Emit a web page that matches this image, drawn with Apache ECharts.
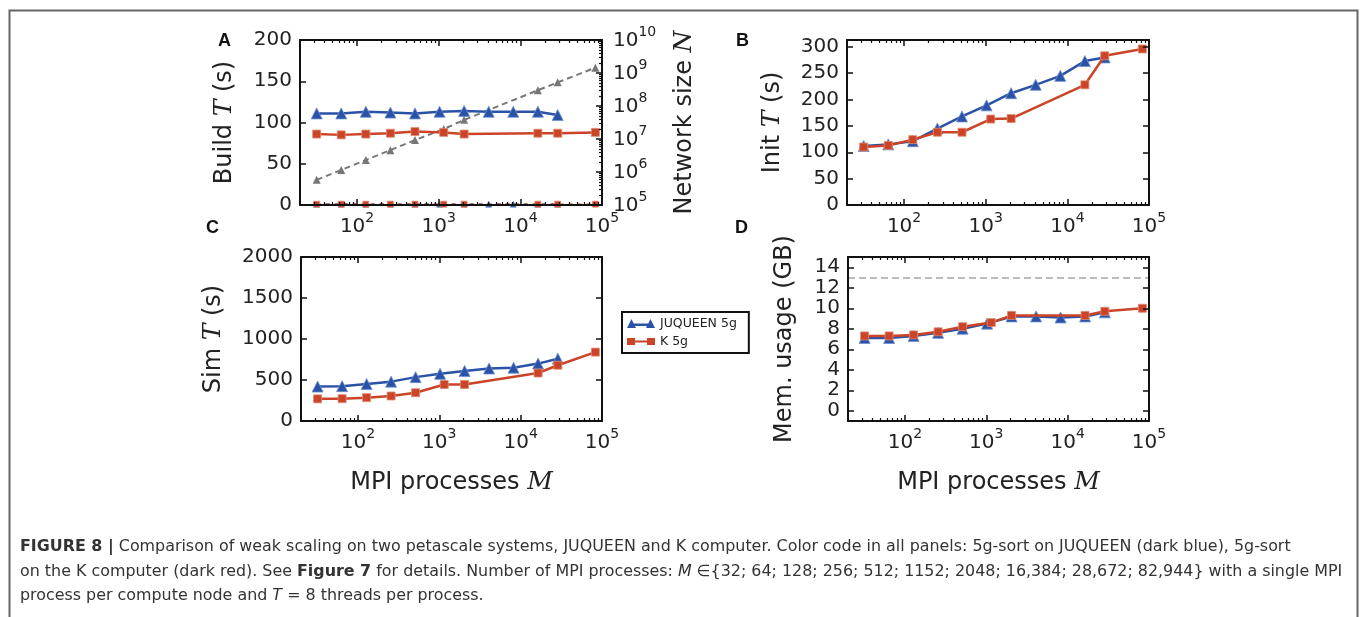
<!DOCTYPE html>
<html><head><meta charset="utf-8">
<script src="https://cdn.jsdelivr.net/npm/echarts@6/dist/echarts.min.js"></script>
<style>html,body{margin:0;padding:0;background:#fff}#c{width:1360px;height:617px}</style>
</head><body><div id="c"></div>
<script>
// ---------- data ----------
const mJUQ = [32, 64, 128, 256, 512, 1024, 2048, 4096, 8192, 16384, 28672];
const mK = [32, 64, 128, 256, 512, 1152, 2048, 16384, 28672, 82944];
const buildJUQ = [111, 111, 113, 112, 111, 113, 114, 113, 113, 113, 109];
const buildK = [86, 85, 86, 87, 89, 88, 86, 87, 87, 88];
const buildLowJUQ = [1, 1, 1, 1, 1, 1, 1, 1, 1, 1, 1];
const buildLowK = [1, 1, 1, 1, 1, 1, 1, 1, 1, 1];
const networkN = [5.8e5, 1.15e6, 2.3e6, 4.6e6, 9.3e6, 2.0e7, 3.8e7, 3.0e8, 5.2e8, 1.45e9];
const initJUQ = [112, 115, 121, 145, 168, 189, 212, 228, 245, 273, 280];
const initK = [110, 113, 124, 138, 138, 163, 164, 228, 283, 296];
const simJUQ = [420, 425, 450, 480, 535, 575, 610, 640, 650, 700, 760];
const simK = [270, 272, 285, 305, 345, 445, 445, 585, 680, 840];
const memJUQ = [7.1, 7.1, 7.3, 7.6, 8.0, 8.5, 9.2, 9.2, 9.1, 9.2, 9.6];
const memK = [7.3, 7.3, 7.4, 7.7, 8.2, 8.6, 9.3, 9.3, 9.7, 10.0];
const memLimit = 13;

// tick labels
const xMajorTicks = [100, 1000, 10000, 100000];
const nMajorTicks = [1e5, 1e6, 1e7, 1e8, 1e9, 1e10];
const buildTicks = [0, 50, 100, 150, 200];
const initTicks = [0, 50, 100, 150, 200, 250, 300];
const simTicks = [0, 500, 1000, 1500, 2000];
const memTicks = [0, 2, 4, 6, 8, 10, 12, 14];
const seriesNames = ['JUQUEEN 5g', 'K 5g'];

// ---------- style ----------
const FONT = 'DejaVu Sans';
const TXT = '#222';
const AX = '#111';
const BLUE = '#2a52a6';
const RED = '#cb4427';

function minorLog(lo, hi) {
  const out = [];
  for (let d = 1; d <= 12; d++) for (let k = 2; k <= 9; k++) {
    const v = k * Math.pow(10, d);
    if (v > lo && v < hi) out.push(v);
  }
  return out;
}
const xMinorTicks = minorLog(20, 1e5);
const nMinorTicks = minorLog(1e5, 1e10);

const supRich = {
  b: { fontSize: 20, fontFamily: FONT, color: TXT, lineHeight: 22, verticalAlign: 'bottom' },
  s: { fontSize: 14, fontFamily: FONT, color: TXT, lineHeight: 14, padding: [0, 0, 12, 0], verticalAlign: 'bottom' }
};
const supFmt = v => '{b|10}{s|' + Math.round(Math.log10(v)) + '}';
const plainFmt = v => String(v);
const nameRich = {
  n: { fontSize: 24, fontFamily: FONT, color: TXT },
  i: { fontSize: 25, fontFamily: 'DejaVu Serif', fontStyle: 'italic', color: TXT }
};

const grids = [
  { left: 300, top: 40, width: 302, height: 165 },
  { left: 847, top: 40, width: 302, height: 165 },
  { left: 301, top: 257, width: 301, height: 164 },
  { left: 848, top: 257, width: 301, height: 164 }
];

const xAxes = [];
grids.forEach((g, gi) => {
  const base = { gridIndex: gi, type: 'log', logBase: 10, min: 20, max: 100000, splitLine: { show: false }, z: 10 };
  const hasName = gi >= 2;
  xAxes.push(Object.assign({}, base, {
    position: 'bottom',
    axisLine: { show: true, onZero: false, lineStyle: { color: AX, width: 2 } },
    axisTick: { show: true, inside: true, length: 6, lineStyle: { color: AX, width: 1.5 }, customValues: xMajorTicks },
    axisLabel: { show: true, customValues: xMajorTicks, formatter: supFmt, rich: supRich, margin: 10 },
    name: hasName ? '{n|MPI processes }{i|M}' : '',
    nameLocation: 'middle', nameGap: 49,
    nameTextStyle: { rich: nameRich }
  }));
  xAxes.push(Object.assign({}, base, {
    position: 'bottom',
    axisLine: { show: false, onZero: false },
    axisTick: { show: true, inside: true, length: 3, lineStyle: { color: AX, width: 1.2 }, customValues: xMinorTicks },
    axisLabel: { show: false }
  }));
  xAxes.push(Object.assign({}, base, {
    position: 'top',
    axisLine: { show: true, onZero: false, lineStyle: { color: AX, width: 2 } },
    axisTick: { show: true, inside: true, length: 6, lineStyle: { color: AX, width: 1.5 }, customValues: xMajorTicks },
    axisLabel: { show: false }
  }));
  xAxes.push(Object.assign({}, base, {
    position: 'top',
    axisLine: { show: false, onZero: false },
    axisTick: { show: true, inside: true, length: 3, lineStyle: { color: AX, width: 1.2 }, customValues: xMinorTicks },
    axisLabel: { show: false }
  }));
});

function leftAxis(gi, min, max, ticks, name, gap) {
  return {
    gridIndex: gi, type: 'value', position: 'left', min: min, max: max, z: 10,
    splitLine: { show: false },
    axisLine: { show: true, onZero: false, lineStyle: { color: AX, width: 2 } },
    axisTick: { show: true, inside: true, length: 6, lineStyle: { color: AX, width: 1.5 }, customValues: ticks },
    axisLabel: { show: true, customValues: ticks, formatter: plainFmt, margin: 8, fontSize: 20, fontFamily: FONT, color: TXT },
    name: name, nameLocation: 'middle', nameRotate: 90, nameGap: gap,
    nameTextStyle: { rich: nameRich }
  };
}
function rightMirror(gi, min, max, ticks) {
  return {
    gridIndex: gi, type: 'value', position: 'right', min: min, max: max, z: 10,
    splitLine: { show: false },
    axisLine: { show: true, onZero: false, lineStyle: { color: AX, width: 2 } },
    axisTick: { show: true, inside: true, length: 6, lineStyle: { color: AX, width: 1.5 }, customValues: ticks },
    axisLabel: { show: false }
  };
}

const yAxes = [
  leftAxis(0, 0, 200, buildTicks, '{n|Build }{i|T}{n| (s)}', 63),
  {
    gridIndex: 0, type: 'log', logBase: 10, position: 'right', min: 1e5, max: 1e10, z: 10,
    splitLine: { show: false },
    axisLine: { show: true, onZero: false, lineStyle: { color: AX, width: 2 } },
    axisTick: { show: true, inside: true, length: 6, lineStyle: { color: AX, width: 1.5 }, customValues: nMajorTicks },
    axisLabel: { show: true, customValues: nMajorTicks, formatter: supFmt, rich: supRich, margin: 11 },
    name: '{n|Network size }{i|N}', nameLocation: 'middle', nameRotate: 90, nameGap: 70,
    nameTextStyle: { rich: nameRich }
  },
  {
    gridIndex: 0, type: 'log', logBase: 10, position: 'right', min: 1e5, max: 1e10, z: 10,
    splitLine: { show: false }, axisLine: { show: false, onZero: false },
    axisTick: { show: true, inside: true, length: 3, lineStyle: { color: AX, width: 1.2 }, customValues: nMinorTicks },
    axisLabel: { show: false }
  },
  leftAxis(1, 0, 313, initTicks, '{n|Init }{i|T}{n| (s)}', 62),
  rightMirror(1, 0, 313, initTicks),
  leftAxis(2, 0, 2000, simTicks, '{n|Sim }{i|T}{n| (s)}', 75),
  rightMirror(2, 0, 2000, simTicks),
  leftAxis(3, -1, 15, memTicks, '{n|Mem. usage (GB)}', 51),
  rightMirror(3, -1, 15, memTicks)
];

function pairs(ms, vs) { return ms.map((m, i) => [m, vs[i]]); }
function juq(name, xi, yi, vals, extra) {
  return Object.assign({
    name: name, type: 'line', xAxisIndex: xi, yAxisIndex: yi, data: pairs(mJUQ, vals),
    symbol: 'triangle', symbolSize: 11, color: BLUE,
    lineStyle: { color: BLUE, width: 2.5 }, itemStyle: { color: BLUE, borderColor: '#6f8fd0', borderWidth: 0.8 },
    z: 3
  }, extra || {});
}
function kser(name, xi, yi, vals, extra) {
  return Object.assign({
    name: name, type: 'line', xAxisIndex: xi, yAxisIndex: yi, data: pairs(mK, vals),
    symbol: 'rect', symbolSize: 8, color: RED,
    lineStyle: { color: RED, width: 2.5 }, itemStyle: { color: RED, borderColor: '#e08a74', borderWidth: 0.8 },
    z: 4
  }, extra || {});
}

const series = [
  {
    name: 'Network size', type: 'line', xAxisIndex: 0, yAxisIndex: 1, data: pairs(mK, networkN),
    symbol: 'triangle', symbolSize: 8, color: '#777',
    lineStyle: { color: '#777', width: 2, type: [6, 4] }, itemStyle: { color: '#777' }, z: 2
  },
  juq(seriesNames[0], 0, 0, buildJUQ),
  kser(seriesNames[1], 0, 0, buildK),
  juq('JUQUEEN low', 0, 0, buildLowJUQ, { lineStyle: { color: BLUE, width: 1.5, type: [4, 5] }, symbolSize: 6 }),
  kser('K low', 0, 0, buildLowK, { lineStyle: { color: RED, width: 1.5, type: [4, 5] }, symbolSize: 6 }),
  juq(seriesNames[0], 4, 3, initJUQ),
  kser(seriesNames[1], 4, 3, initK),
  juq(seriesNames[0], 8, 5, simJUQ),
  kser(seriesNames[1], 8, 5, simK),
  juq(seriesNames[0], 12, 7, memJUQ),
  kser(seriesNames[1], 12, 7, memK, {
    markLine: {
      silent: true, symbol: 'none', label: { show: false },
      lineStyle: { color: '#bbb', width: 2, type: [7, 4] },
      data: [{ yAxis: memLimit }]
    }
  })
];

const CAPF = 'DejaVu Sans';
const CAPS = 15.9;
const capBase = { fontSize: CAPS, fontFamily: CAPF, fill: '#333' };
const capRich = {
  b: { fontSize: CAPS, fontFamily: CAPF, fontWeight: 'bold', color: '#333' },
  i: { fontSize: CAPS, fontFamily: CAPF, fontStyle: 'italic', color: '#333' }
};
function capLine(y, text) {
  return { type: 'text', left: 20, top: y, style: Object.assign({ text: text, rich: capRich }, capBase) };
}
function panelLetter(x, y, t) {
  return { type: 'text', left: x, top: y, style: { text: t, fontSize: 18, fontWeight: 'bold', fontFamily: 'Liberation Sans', fill: '#111' } };
}

const option = {
  animation: false,
  backgroundColor: '#fff',
  grid: grids.map(g => Object.assign({ containLabel: false, outerBoundsMode: 'none' }, g)),
  xAxis: xAxes,
  yAxis: yAxes,
  legend: {
    left: 622, top: 312, orient: 'vertical',
    itemWidth: 28, itemHeight: 10, itemGap: 5,
    padding: [5, 12, 5, 5],
    borderColor: '#111', borderWidth: 2, backgroundColor: '#fff',
    itemStyle: { borderWidth: 0 },
    textStyle: { fontSize: 12.5, fontFamily: FONT, color: TXT },
    data: [
      { name: seriesNames[0], icon: 'path://M0,10 L4.5,1 L9,10 Z M4,5.5 L24,5.5 L24,8 L4,8 Z M19,10 L23.5,1 L28,10 Z' },
      { name: seriesNames[1], icon: 'path://M0,1.5 L8,1.5 L8,8.5 L0,8.5 Z M6,4 L22,4 L22,6 L6,6 Z M20,1.5 L28,1.5 L28,8.5 L20,8.5 Z' }
    ]
  },
  graphic: [
    { type: 'rect', left: 7, top: 8, shape: { width: 1348, height: 640 }, style: { fill: 'none', stroke: '#666', lineWidth: 2 }, z: -10 },
    panelLetter(218, 32, 'A'),
    panelLetter(736, 32, 'B'),
    panelLetter(206, 219, 'C'),
    panelLetter(735, 219, 'D'),
    capLine(539, '{b|FIGURE 8 |} Comparison of weak scaling on two petascale systems, JUQUEEN and K computer. Color code in all panels: 5g-sort on JUQUEEN (dark blue), 5g-sort'),
    capLine(564, 'on the K computer (dark red). See {b|Figure 7} for details. Number of MPI processes: {i|M} ∈{32; 64; 128; 256; 512; 1152; 2048; 16,384; 28,672; 82,944} with a single MPI'),
    capLine(588, 'process per compute node and {i|T} = 8 threads per process.')
  ],
  series: series
};

const chart = echarts.init(document.getElementById('c'));
chart.setOption(option);
</script>
</body></html>
